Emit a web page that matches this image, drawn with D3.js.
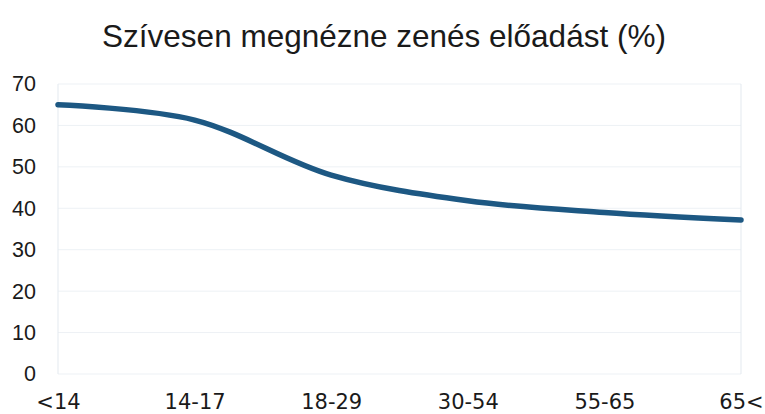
<!DOCTYPE html>
<html>
<head>
<meta charset="utf-8">
<script src="https://cdn.jsdelivr.net/npm/d3@7"></script>
<style>
  body { margin: 0; background: #fff; }
  text { font-family: "Liberation Sans", Arial, sans-serif; fill: #1a1a1a; }
</style>
</head>
<body>
<svg id="chart" width="765" height="414"></svg>
<script>
var categories = ['<14', '14-17', '18-29', '30-54', '55-65', '65<'],
    values = [65, 61.3, 48, 41.8, 39, 37.2],
    yTicks = [0, 10, 20, 30, 40, 50, 60, 70];

var svg = d3.select('#chart'),
    margin = { top: 84, right: 24, bottom: 40, left: 58 },
    width = 765 - margin.left - margin.right,
    height = 414 - margin.top - margin.bottom;

svg.append('rect').attr('width', 765).attr('height', 414).attr('fill', '#fff');

svg.append('text')
    .attr('x', 384)
    .attr('y', 47)
    .attr('text-anchor', 'middle')
    .style('font-size', '31.5px')
    .text('Szívesen megnézne zenés előadást (%)');

var g = svg.append('g')
    .attr('transform', 'translate(' + margin.left + ',' + margin.top + ')');

var x = d3.scalePoint().domain(categories).range([0, width]),
    y = d3.scaleLinear().domain([0, 70]).range([height, 0]);

// faint gridlines
g.selectAll('.grid')
    .data(yTicks)
    .enter().append('line')
    .attr('class', 'grid')
    .attr('x1', 0).attr('x2', width)
    .attr('y1', function(d) { return y(d); })
    .attr('y2', function(d) { return y(d); })
    .style('stroke', '#edf1f5')
    .style('stroke-width', 1);

g.append('line')
    .attr('x1', 0).attr('x2', 0).attr('y1', 0).attr('y2', height)
    .style('stroke', '#e3e9ef');
g.append('line')
    .attr('x1', width).attr('x2', width).attr('y1', 0).attr('y2', height)
    .style('stroke', '#e3e9ef');

var yAxis = g.append('g')
    .call(d3.axisLeft(y).tickValues(yTicks).tickSize(0).tickPadding(22));
yAxis.select('.domain').remove();
yAxis.selectAll('text').style('font-size', '21.5px').attr('fill', '#1a1a1a');

var xAxis = g.append('g')
    .attr('transform', 'translate(0,' + height + ')')
    .call(d3.axisBottom(x).tickSize(0).tickPadding(20));
xAxis.select('.domain').remove();
xAxis.selectAll('text')
    .style('font-size', '21px')
    .style('font-family', '"DejaVu Sans", sans-serif')
    .attr('fill', '#1a1a1a');

var line = d3.line()
    .x(function(d, i) { return x(categories[i]); })
    .y(function(d) { return y(d); })
    .curve(d3.curveCatmullRom.alpha(0.5));

g.append('path')
    .datum(values)
    .attr('d', line)
    .style('fill', 'none')
    .style('stroke', '#1d5883')
    .style('stroke-width', 5.5)
    .style('stroke-linejoin', 'round')
    .style('stroke-linecap', 'round');
</script>
</body>
</html>
